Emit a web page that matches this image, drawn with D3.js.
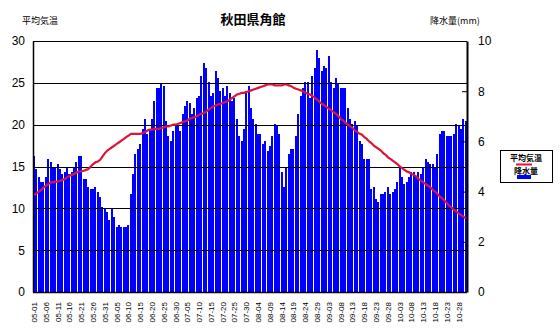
<!DOCTYPE html>
<html><head><meta charset="utf-8">
<script src="https://cdn.jsdelivr.net/npm/d3@7/dist/d3.min.js"></script>
<style>body{margin:0;background:#fff}svg{display:block}</style>
</head><body><svg id="c" width="560" height="330"></svg>
<script>
const chartTitle = "秋田県角館";
const leftTitle = "平均気温";
const rightTitle = "降水量(mm)";
const legendNames = ["平均気温", "降水量"];
const tickLabels = ["05-01","05-06","05-11","05-16","05-21","05-26","05-31","06-05","06-10","06-15","06-20","06-25","06-30","07-05","07-10","07-15","07-20","07-25","07-30","08-04","08-09","08-14","08-19","08-24","08-29","09-03","09-08","09-13","09-18","09-23","09-28","10-03","10-08","10-13","10-18","10-23","10-28"];
const tempTicks = [0,5,10,15,20,25,30];
const precipTicks = [0,2,4,6,8,10];
// daily precipitation (mm), 05-01 .. 10-31
const precip = [5.43,4.91,4.6,4.39,4.39,4.6,5.31,5.19,4.99,4.99,5.11,4.91,4.71,4.79,4.99,4.71,4.79,4.99,5.19,5.43,
5.43,4.52,4.52,4.2,4.12,4.12,4.2,4.0,3.8,3.4,3.32,3.2,2.88,3.32,3.0,2.6,2.68,2.6,2.6,2.6,
2.68,3.92,4.71,5.51,5.71,5.91,6.5,6.9,6.3,6.5,6.9,7.62,8.14,8.14,8.34,8.22,6.83,6.23,6.03,6.43,
6.71,6.63,6.43,7.1,7.42,7.62,7.54,7.1,7.34,7.74,7.82,8.62,9.14,8.94,8.35,7.82,7.94,8.82,8.54,8.02,
8.14,7.82,8.22,7.94,7.62,7.74,6.9,6.23,6.03,6.5,8.02,8.22,7.34,6.9,6.71,6.3,6.3,5.91,6.03,5.63,
5.83,6.23,6.71,6.63,6.3,4.79,4.2,4.99,5.51,5.71,5.71,6.23,7.1,7.82,8.14,8.35,8.35,7.74,8.62,8.94,
9.66,9.34,8.82,9.02,8.94,9.42,8.38,8.14,8.54,8.34,8.14,8.14,8.14,7.34,6.9,6.71,6.83,6.63,6.03,5.91,
5.31,5.31,5.31,4.12,4.2,3.72,3.6,3.92,3.92,4.0,4.2,3.92,4.0,4.12,4.39,4.99,4.6,4.31,4.39,4.6,
4.79,4.79,4.6,4.79,4.71,4.99,5.31,5.19,5.11,5.11,4.99,5.51,6.3,6.43,6.43,6.23,6.23,6.23,6.3,6.71,
6.63,6.5,6.9,6.83];
// daily mean temperature (°C)
const temp = [11.6,11.8,12.0,12.2,12.5,12.7,12.9,13.1,13.1,13.2,13.2,13.3,13.4,13.5,13.7,13.9,14.0,14.1,14.3,14.4,
14.4,14.5,14.6,14.7,15.0,15.3,15.5,15.6,15.8,16.2,16.6,16.9,17.1,17.3,17.5,17.7,17.9,18.1,18.3,18.5,
18.7,18.9,18.9,18.9,18.9,18.9,19.0,19.1,19.3,19.4,19.4,19.5,19.5,19.5,19.6,19.7,19.8,19.8,19.9,20.0,
20.0,20.1,20.2,20.3,20.4,20.5,20.7,20.8,20.9,21.0,21.2,21.3,21.4,21.6,21.8,22.0,22.2,22.3,22.4,22.5,
22.6,22.7,22.8,23.0,23.2,23.4,23.6,23.7,23.8,23.8,23.9,24.0,24.1,24.2,24.3,24.4,24.5,24.6,24.7,24.8,
24.8,24.8,24.7,24.7,24.7,24.7,24.8,24.8,24.7,24.6,24.4,24.3,24.2,24.1,24.0,23.8,23.7,23.6,23.4,23.2,
23.0,22.7,22.5,22.3,22.1,21.9,21.7,21.5,21.3,21.0,20.7,20.5,20.2,20.0,19.8,19.6,19.3,19.1,18.9,18.8,
18.5,18.3,18.0,17.8,17.5,17.3,17.1,16.9,16.6,16.4,16.1,15.9,15.7,15.5,15.3,15.0,14.8,14.6,14.4,14.3,
14.1,14.0,13.8,13.5,13.3,13.1,12.9,12.7,12.5,12.2,12.0,11.7,11.4,11.2,10.9,10.6,10.3,10.1,9.8,9.6,
9.4,9.2,9.0,8.8];

const svg = d3.select("#c");
const L = 33, R = 467, T = 41, B = 292;
const n = precip.length;
const x = d3.scaleLinear().domain([0, n]).range([L, R]);
const yT = d3.scaleLinear().domain([0, 30]).range([B, T]);
const yP = d3.scaleLinear().domain([0, 10]).range([B, T]);
const jp = "'Noto Sans CJK JP', sans-serif";
const num = "'Liberation Sans', Arial, sans-serif";

// bars
svg.append("g").attr("shape-rendering", "crispEdges")
  .selectAll("rect").data(precip).join("rect")
  .attr("x", (d, i) => Math.round(x(i)))
  .attr("width", 2)
  .attr("y", d => Math.round(yP(d)))
  .attr("height", d => B - Math.round(yP(d)))
  .attr("fill", "#0000ff");

// gridlines
svg.append("g").attr("shape-rendering", "crispEdges")
  .selectAll("line").data(tempTicks.filter(t => t > 0)).join("line")
  .attr("x1", L).attr("x2", R)
  .attr("y1", d => Math.round(yT(d)) + 0.5).attr("y2", d => Math.round(yT(d)) + 0.5)
  .attr("stroke", "#000").attr("stroke-width", 1);

// left axis
const la = svg.append("g").attr("transform", `translate(${L},0)`)
  .call(d3.axisLeft(yT).tickValues(tempTicks).tickSize(0).tickPadding(8));
la.select(".domain").attr("stroke", "#000").attr("stroke-width", 1.5);
la.selectAll("text").attr("font-family", num).attr("font-size", 12).attr("fill", "#000");

// right axis
const ra = svg.append("g").attr("transform", `translate(${R},0)`)
  .call(d3.axisRight(yP).tickValues(precipTicks).tickSizeInner(-5).tickSizeOuter(0).tickPadding(11));
ra.select(".domain").attr("stroke", "#000").attr("stroke-width", 2);
ra.selectAll(".tick line").attr("stroke", "#000").attr("stroke-width", 1);
ra.selectAll("text").attr("font-family", num).attr("font-size", 12).attr("fill", "#000");

// bottom axis line
svg.append("line").attr("x1", L).attr("x2", R).attr("y1", B + 0.5).attr("y2", B + 0.5)
  .attr("stroke", "#000").attr("stroke-width", 1.5);

// x tick labels (every 5 days)
svg.append("g").selectAll("text").data(tickLabels).join("text")
  .attr("transform", (d, k) => `translate(${x(k * 5 + 0.5)},302) rotate(-90)`)
  .attr("text-anchor", "end").attr("dy", "0.35em")
  .attr("font-family", num).attr("font-size", 8).attr("fill", "#000")
  .text(d => d);

// temperature line
const line = d3.line().x((d, i) => x(i + 0.5)).y(d => yT(d));
svg.append("path").datum(temp).attr("d", line)
  .attr("fill", "none").attr("stroke", "#dc143c").attr("stroke-width", 2.2);

// titles
svg.append("text").attr("x", 253).attr("y", 24).attr("text-anchor", "middle")
  .attr("font-family", jp).attr("font-size", 13).attr("font-weight", "bold").text(chartTitle);
svg.append("text").attr("x", 22).attr("y", 24)
  .attr("font-family", jp).attr("font-size", 9).text(leftTitle);
svg.append("text").attr("x", 430).attr("y", 24)
  .attr("font-family", jp).attr("font-size", 9).text(rightTitle);

// legend
const lg = svg.append("g");
lg.append("rect").attr("x", 500.5).attr("y", 150.5).attr("width", 52).attr("height", 32)
  .attr("fill", "#fff").attr("stroke", "#000").attr("stroke-width", 1);
lg.append("text").attr("x", 526).attr("y", 161).attr("text-anchor", "middle")
  .attr("font-family", jp).attr("font-size", 8).attr("font-weight", "bold").text(legendNames[0]);
lg.append("line").attr("x1", 516).attr("x2", 532).attr("y1", 164.5).attr("y2", 164.5)
  .attr("stroke", "#dc143c").attr("stroke-width", 2);
lg.append("text").attr("x", 526).attr("y", 174).attr("text-anchor", "middle")
  .attr("font-family", jp).attr("font-size", 8).attr("font-weight", "bold").text(legendNames[1]);
lg.append("rect").attr("x", 517).attr("y", 175).attr("width", 14).attr("height", 4).attr("fill", "#0000ff");
</script>
</body></html>
